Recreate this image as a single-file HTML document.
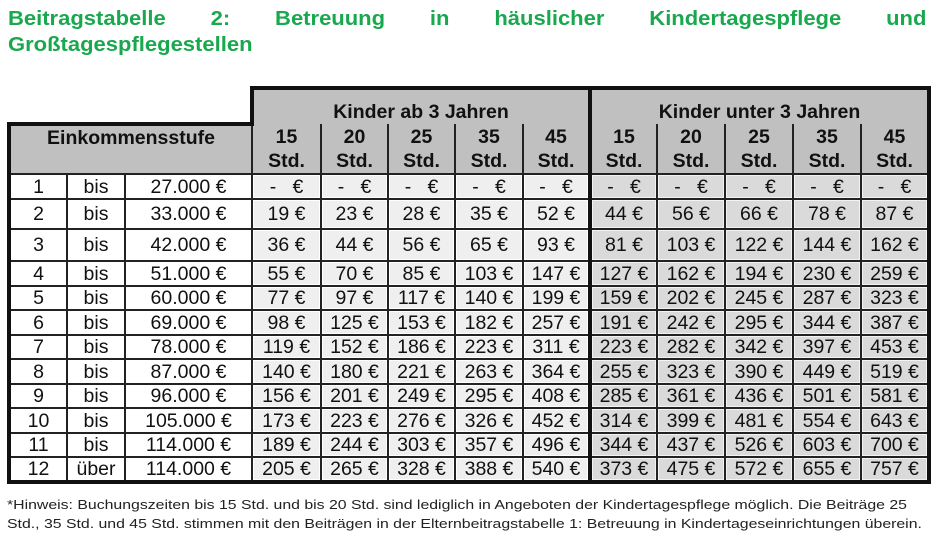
<!DOCTYPE html>
<html><head><meta charset="utf-8"><style>
body{margin:0;width:941px;height:549px;background:#fff;position:relative;overflow:hidden;font-family:"Liberation Sans",Arial,sans-serif}
.title{position:absolute;left:8px;top:6px;width:835px;color:#1aa84f;font-weight:bold;font-size:20px;line-height:26px;transform:scaleX(1.1);transform-origin:left top}
.l1{display:flex;justify-content:space-between}
table{position:absolute;left:7px;top:86px;border-collapse:collapse;table-layout:fixed;font-size:19.5px;color:#111}
td{padding:0;text-align:center;white-space:nowrap;border:2px solid #222;line-height:20px;overflow:hidden}
.blank{border:none;border-bottom:4px solid #111;background:#fff}
.gh{background:#c0c0c0;font-weight:bold;font-size:19.5px;border-bottom:none;vertical-align:bottom;padding-bottom:2px;border-top:4px solid #111}
.nh{background:#c0c0c0;font-weight:bold;font-size:19.5px;border-top:none;line-height:24px}
.eh{background:#c0c0c0;font-weight:bold;font-size:19.5px;vertical-align:top;padding-top:2px;border-left:4px solid #111}
.w{background:#fff}
.a{background:#efefef;box-shadow:inset 0 0 0 1px #fff}
.b{background:#dadada;box-shadow:inset 0 0 0 1px #f3f3f3}
.L{border-left:4px solid #111}
.R{border-right:4px solid #111}
.sep{border-left:4px solid #111}
tr.last td{border-bottom:4px solid #111}
.note{position:absolute;left:7px;top:495px;font-size:13.2px;line-height:19px;color:#222;width:780px;white-space:nowrap;transform:scaleX(1.2);transform-origin:left top}
</style></head><body>
<div class="title"><div class="l1"><span>Beitragstabelle</span><span>2:</span><span>Betreuung</span><span>in</span><span>häuslicher</span><span>Kindertagespflege</span><span>und</span></div>Großtagespflegestellen</div>
<table>
<colgroup><col style="width:58px"><col style="width:58px"><col style="width:127px"><col style="width:69px"><col style="width:67px"><col style="width:67px"><col style="width:68px"><col style="width:67px"><col style="width:67px"><col style="width:68px"><col style="width:68px"><col style="width:68px"><col style="width:68px"></colgroup>
<tr style="height:36px"><td colspan="3" class="blank" style="border-left:none"></td><td colspan="5" class="gh" style="border-left:4px solid #111">Kinder ab 3 Jahren</td><td colspan="5" class="gh R sep">Kinder unter 3 Jahren</td></tr>
<tr style="height:50px"><td colspan="3" class="eh">Einkommensstufe</td><td class="nh">15<br>Std.</td><td class="nh">20<br>Std.</td><td class="nh">25<br>Std.</td><td class="nh">35<br>Std.</td><td class="nh">45<br>Std.</td><td class="nh sep">15<br>Std.</td><td class="nh">20<br>Std.</td><td class="nh">25<br>Std.</td><td class="nh">35<br>Std.</td><td class="nh R">45<br>Std.</td></tr>
<tr style="height:25px"><td class="w L">1</td><td class="w">bis</td><td class="w">27.000 €</td><td class="a">-&nbsp;&nbsp; €</td><td class="a">-&nbsp;&nbsp; €</td><td class="a">-&nbsp;&nbsp; €</td><td class="a">-&nbsp;&nbsp; €</td><td class="a">-&nbsp;&nbsp; €</td><td class="b sep">-&nbsp;&nbsp; €</td><td class="b">-&nbsp;&nbsp; €</td><td class="b">-&nbsp;&nbsp; €</td><td class="b">-&nbsp;&nbsp; €</td><td class="b R">-&nbsp;&nbsp; €</td></tr>
<tr style="height:30px"><td class="w L">2</td><td class="w">bis</td><td class="w">33.000 €</td><td class="a">19 €</td><td class="a">23 €</td><td class="a">28 €</td><td class="a">35 €</td><td class="a">52 €</td><td class="b sep">44 €</td><td class="b">56 €</td><td class="b">66 €</td><td class="b">78 €</td><td class="b R">87 €</td></tr>
<tr style="height:32px"><td class="w L">3</td><td class="w">bis</td><td class="w">42.000 €</td><td class="a">36 €</td><td class="a">44 €</td><td class="a">56 €</td><td class="a">65 €</td><td class="a">93 €</td><td class="b sep">81 €</td><td class="b">103 €</td><td class="b">122 €</td><td class="b">144 €</td><td class="b R">162 €</td></tr>
<tr style="height:25px"><td class="w L">4</td><td class="w">bis</td><td class="w">51.000 €</td><td class="a">55 €</td><td class="a">70 €</td><td class="a">85 €</td><td class="a">103 €</td><td class="a">147 €</td><td class="b sep">127 €</td><td class="b">162 €</td><td class="b">194 €</td><td class="b">230 €</td><td class="b R">259 €</td></tr>
<tr style="height:24px"><td class="w L">5</td><td class="w">bis</td><td class="w">60.000 €</td><td class="a">77 €</td><td class="a">97 €</td><td class="a">117 €</td><td class="a">140 €</td><td class="a">199 €</td><td class="b sep">159 €</td><td class="b">202 €</td><td class="b">245 €</td><td class="b">287 €</td><td class="b R">323 €</td></tr>
<tr style="height:25px"><td class="w L">6</td><td class="w">bis</td><td class="w">69.000 €</td><td class="a">98 €</td><td class="a">125 €</td><td class="a">153 €</td><td class="a">182 €</td><td class="a">257 €</td><td class="b sep">191 €</td><td class="b">242 €</td><td class="b">295 €</td><td class="b">344 €</td><td class="b R">387 €</td></tr>
<tr style="height:24px"><td class="w L">7</td><td class="w">bis</td><td class="w">78.000 €</td><td class="a">119 €</td><td class="a">152 €</td><td class="a">186 €</td><td class="a">223 €</td><td class="a">311 €</td><td class="b sep">223 €</td><td class="b">282 €</td><td class="b">342 €</td><td class="b">397 €</td><td class="b R">453 €</td></tr>
<tr style="height:25px"><td class="w L">8</td><td class="w">bis</td><td class="w">87.000 €</td><td class="a">140 €</td><td class="a">180 €</td><td class="a">221 €</td><td class="a">263 €</td><td class="a">364 €</td><td class="b sep">255 €</td><td class="b">323 €</td><td class="b">390 €</td><td class="b">449 €</td><td class="b R">519 €</td></tr>
<tr style="height:24px"><td class="w L">9</td><td class="w">bis</td><td class="w">96.000 €</td><td class="a">156 €</td><td class="a">201 €</td><td class="a">249 €</td><td class="a">295 €</td><td class="a">408 €</td><td class="b sep">285 €</td><td class="b">361 €</td><td class="b">436 €</td><td class="b">501 €</td><td class="b R">581 €</td></tr>
<tr style="height:25px"><td class="w L">10</td><td class="w">bis</td><td class="w">105.000 €</td><td class="a">173 €</td><td class="a">223 €</td><td class="a">276 €</td><td class="a">326 €</td><td class="a">452 €</td><td class="b sep">314 €</td><td class="b">399 €</td><td class="b">481 €</td><td class="b">554 €</td><td class="b R">643 €</td></tr>
<tr style="height:24px"><td class="w L">11</td><td class="w">bis</td><td class="w">114.000 €</td><td class="a">189 €</td><td class="a">244 €</td><td class="a">303 €</td><td class="a">357 €</td><td class="a">496 €</td><td class="b sep">344 €</td><td class="b">437 €</td><td class="b">526 €</td><td class="b">603 €</td><td class="b R">700 €</td></tr>
<tr class="last" style="height:25px"><td class="w L">12</td><td class="w">über</td><td class="w">114.000 €</td><td class="a">205 €</td><td class="a">265 €</td><td class="a">328 €</td><td class="a">388 €</td><td class="a">540 €</td><td class="b sep">373 €</td><td class="b">475 €</td><td class="b">572 €</td><td class="b">655 €</td><td class="b R">757 €</td></tr>
</table>
<div class="note">*Hinweis: Buchungszeiten bis 15 Std. und bis 20 Std. sind lediglich in Angeboten der Kindertagespflege möglich. Die Beiträge 25<br>Std., 35 Std. und 45 Std. stimmen mit den Beiträgen in der Elternbeitragstabelle 1: Betreuung in Kindertageseinrichtungen überein.</div>
</body></html>
